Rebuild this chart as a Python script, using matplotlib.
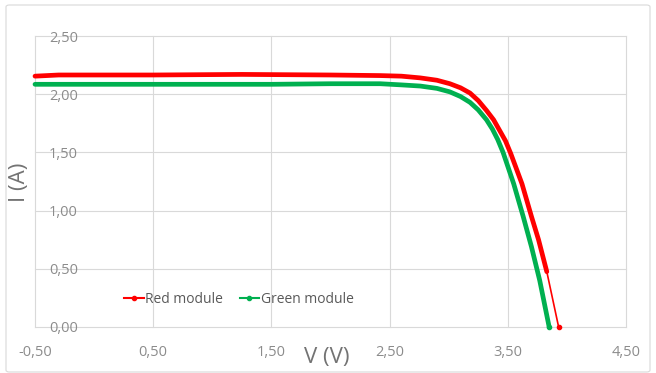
import matplotlib
matplotlib.use("Agg")
import matplotlib.pyplot as plt
import matplotlib.patches as patches
from matplotlib.lines import Line2D
from matplotlib.ticker import FuncFormatter

# Data
v_red = [-0.50, -0.30, 0.50, 1.25, 2.00, 2.42, 2.60, 2.76, 2.90, 3.01, 3.10, 3.18,
         3.25, 3.32, 3.38, 3.43, 3.48, 3.525, 3.62, 3.70, 3.76, 3.83, 3.93]
i_red = [2.155, 2.165, 2.165, 2.17, 2.165, 2.16, 2.155, 2.14, 2.12, 2.09, 2.055, 2.01,
         1.945, 1.86, 1.78, 1.69, 1.60, 1.49, 1.23, 0.95, 0.75, 0.475, 0.00]

v_green = [-0.50, 0.50, 1.50, 2.00, 2.42, 2.60, 2.76, 2.90, 3.01, 3.10, 3.18, 3.25,
           3.32, 3.37, 3.415, 3.46, 3.55, 3.63, 3.70, 3.77, 3.85]
i_green = [2.085, 2.085, 2.085, 2.09, 2.09, 2.08, 2.07, 2.05, 2.02, 1.98, 1.93, 1.865,
           1.78, 1.70, 1.61, 1.50, 1.23, 0.95, 0.69, 0.40, 0.00]

x_ticks = [-0.5, 0.5, 1.5, 2.5, 3.5, 4.5]
y_ticks = [0.0, 0.5, 1.0, 1.5, 2.0, 2.5]
series_names = ["Red module", "Green module"]

red = "#ff0000"
green = "#00b050"
grey = "#8c8c8c"

plt.rcParams['font.family'] = ['Open Sans', 'DejaVu Sans']

fig = plt.figure(figsize=(6.56, 3.73), dpi=100)
fig.patch.set_facecolor("white")

# chart border
fig.patches.append(patches.FancyBboxPatch((6 / 656, 1 / 373), 644 / 656, 367 / 373,
                                          boxstyle="round,pad=0,rounding_size=0.005",
                                          transform=fig.transFigure, fill=False,
                                          edgecolor="#d9d9d9", linewidth=0.8))

ax = fig.add_axes([35 / 656, 1 - 327 / 373, 591 / 656, 291 / 373])
ax.set_xlim(-0.5, 4.5)
ax.set_ylim(0, 2.5)
ax.set_xticks(x_ticks)
ax.set_yticks(y_ticks)
fmt = FuncFormatter(lambda v, p: f"{v:.2f}".replace(".", ","))
ax.xaxis.set_major_formatter(fmt)
ax.yaxis.set_major_formatter(fmt)
for s in ax.spines.values():
    s.set_visible(False)
ax.grid(True, color="#d9d9d9", linewidth=0.8)
ax.set_axisbelow(True)
ax.tick_params(axis="both", length=0, labelsize=10.5, labelcolor=grey)
ax.tick_params(axis="x", pad=13)
ax.tick_params(axis="y", pad=-10)
for lab in ax.get_yticklabels():
    lab.set_horizontalalignment("left")
for gl in ax.get_xgridlines() + ax.get_ygridlines():
    gl.set_clip_on(False)

# curves
ax.plot(v_green, i_green, color=green, lw=3.4, solid_capstyle="round", clip_on=False)
ax.plot(v_green[-1:], i_green[-1:], "o", color=green, ms=3, clip_on=False)
ax.plot(v_red[:-1], i_red[:-1], color=red, lw=3.4, solid_capstyle="round", clip_on=False)
ax.plot(v_red[-2:], i_red[-2:], color=red, lw=1.2, clip_on=False)
ax.plot(v_red[-1:], i_red[-1:], "o", color=red, ms=3, clip_on=False)

fig.text(327 / 656, 1 - 358 / 373, "V (V)", fontsize=16, color="#737373",
         ha="center", va="center")
fig.text(20 / 656, 1 - 182 / 373, "I (A)", fontsize=16, color="#737373",
         ha="center", va="center", rotation=90)

handles = [Line2D([], [], color=red, lw=1.5, marker="o", ms=3),
           Line2D([], [], color=green, lw=1.5, marker="o", ms=3)]
ax.legend(handles, series_names, loc="center", bbox_to_anchor=(0.345, 0.095),
          ncol=2, frameon=False, fontsize=10, handlelength=1.4, handletextpad=0.1,
          columnspacing=1.2, labelcolor="#595959")

fig.savefig("out.png", dpi=100)
